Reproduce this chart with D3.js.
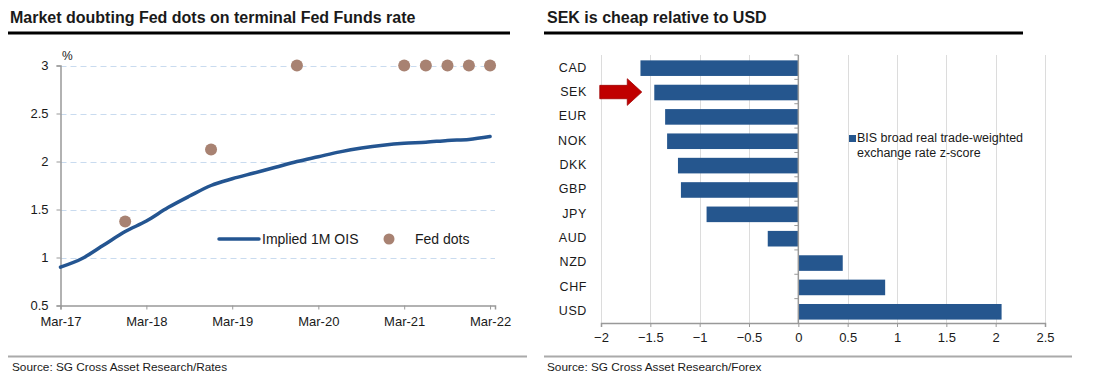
<!DOCTYPE html>
<html>
<head>
<meta charset="utf-8">
<script src="https://cdn.jsdelivr.net/npm/d3@7"></script>
<style>
  body { margin: 0; background: #fff; }
  text { font-family: "Liberation Sans", Arial, sans-serif; fill: #1a1a1a; }
</style>
</head>
<body>
<script>
// left chart: implied 1M OIS (quarterly) and Fed dots
var oisDates = ["2017-03", "2017-06", "2017-09", "2017-12", "2018-03", "2018-06", "2018-09", "2018-12",
  "2019-03", "2019-06", "2019-09", "2019-12", "2020-03", "2020-06", "2020-09", "2020-12",
  "2021-03", "2021-06", "2021-09", "2021-12", "2022-03"];
var oisValues = [0.90, 0.99, 1.13, 1.27, 1.38, 1.52, 1.64, 1.75,
  1.82, 1.88, 1.94, 2.00, 2.05, 2.10, 2.14, 2.17,
  2.19, 2.20, 2.22, 2.23, 2.26];
var dotDates = ["2017-12", "2018-12", "2019-12", "2021-03", "2021-06", "2021-09", "2021-12", "2022-03"];
var dotValues = [1.375, 2.125, 3.0, 3.0, 3.0, 3.0, 3.0, 3.0];
var leftTicksY = [0.5, 1, 1.5, 2, 2.5, 3];
var leftTicksX = ["2017-03", "2018-03", "2019-03", "2020-03", "2021-03", "2022-03"];

// right chart: BIS REER z-score
var currencies = ["CAD", "SEK", "EUR", "NOK", "DKK", "GBP", "JPY", "AUD", "NZD", "CHF", "USD"];
var zScores = [-1.60, -1.46, -1.35, -1.33, -1.22, -1.19, -0.93, -0.31, 0.45, 0.88, 2.06];
var rightTicksX = [-2, -1.5, -1, -0.5, 0, 0.5, 1, 1.5, 2, 2.5];

var parse = d3.timeParse("%Y-%m");
var grey = "#999";

var svg = d3.select("body").append("svg")
  .attr("width", 1115)
  .attr("height", 392);

/* ---------- left panel ---------- */
var left = svg.append("g");

left.append("text")
  .attr("x", 10).attr("y", 23)
  .style("font-size", "16px").style("font-weight", "bold")
  .text("Market doubting Fed dots on terminal Fed Funds rate");
left.append("line")
  .attr("x1", 8).attr("x2", 510).attr("y1", 33).attr("y2", 33)
  .attr("stroke", "#000").attr("stroke-width", 3);

var xL = d3.scaleTime()
  .domain([parse("2017-03"), new Date(2022, 2, 22)])
  .range([60.5, 495]);
var yL = d3.scaleLinear().domain([0.5, 3]).range([305.5, 65.5]);

// dashed grid
left.append("g").selectAll("line")
  .data(leftTicksY.filter(d => d > 0.5))
  .enter().append("line")
  .attr("x1", xL.range()[0]).attr("x2", xL.range()[1])
  .attr("y1", d => Math.round(yL(d)) + 0.5).attr("y2", d => Math.round(yL(d)) + 0.5)
  .attr("stroke", "#c9dbef").attr("stroke-width", 1.2)
  .attr("stroke-dasharray", "6,4");

// y axis
var yAxisL = left.append("g")
  .attr("transform", "translate(" + xL.range()[0] + ",0)")
  .call(d3.axisLeft(yL).tickValues(leftTicksY).tickSize(4).tickPadding(8).tickFormat(d3.format("")));
yAxisL.select(".domain").attr("stroke", grey).attr("stroke-width", 1.5);
yAxisL.selectAll(".tick line").attr("stroke", grey);
yAxisL.selectAll(".tick text").style("font-size", "13px").attr("fill", "#1a1a1a");

left.append("text")
  .attr("x", 62).attr("y", 60)
  .style("font-size", "12px")
  .text("%");

// x axis
var xAxisL = left.append("g")
  .attr("transform", "translate(0," + yL(0.5) + ")")
  .call(d3.axisBottom(xL).tickValues(leftTicksX.map(parse)).tickSize(4).tickPadding(7)
    .tickFormat(d3.timeFormat("%b-%y")));
xAxisL.select(".domain").attr("stroke", grey).attr("stroke-width", 1.5);
xAxisL.selectAll(".tick line").attr("stroke", grey);
xAxisL.selectAll(".tick text").style("font-size", "13px").attr("fill", "#1a1a1a");

// OIS line
var ois = oisDates.map((d, i) => ({ date: parse(d), value: oisValues[i] }));
left.append("path")
  .datum(ois)
  .attr("fill", "none")
  .attr("stroke", "#245591")
  .attr("stroke-width", 3.5)
  .attr("stroke-linecap", "round")
  .attr("d", d3.line().curve(d3.curveMonotoneX).x(d => xL(d.date)).y(d => yL(d.value)));

// Fed dots
var dots = dotDates.map((d, i) => ({ date: parse(d), value: dotValues[i] }));
left.append("g").selectAll("circle")
  .data(dots)
  .enter().append("circle")
  .attr("cx", d => xL(d.date))
  .attr("cy", d => yL(d.value))
  .attr("r", 6)
  .attr("fill", "#a88272");

// legend
var legL = left.append("g").attr("transform", "translate(0,239)");
legL.append("line")
  .attr("x1", 219).attr("x2", 259)
  .attr("stroke", "#245591").attr("stroke-width", 3.5).attr("stroke-linecap", "round");
legL.append("text").attr("x", 262).attr("y", 5).style("font-size", "14px").text("Implied 1M OIS");
legL.append("circle").attr("cx", 389).attr("cy", 0).attr("r", 5.5).attr("fill", "#a88272");
legL.append("text").attr("x", 415).attr("y", 5).style("font-size", "14px").text("Fed dots");

left.append("line")
  .attr("x1", 8).attr("x2", 527).attr("y1", 356.5).attr("y2", 356.5)
  .attr("stroke", "#aaa").attr("stroke-width", 2);
left.append("text")
  .attr("x", 12).attr("y", 371)
  .style("font-size", "11.8px")
  .text("Source: SG Cross Asset Research/Rates");

/* ---------- right panel ---------- */
var right = svg.append("g");

right.append("text")
  .attr("x", 547).attr("y", 23)
  .style("font-size", "16px").style("font-weight", "bold")
  .text("SEK is cheap relative to USD");
right.append("line")
  .attr("x1", 544).attr("x2", 1023).attr("y1", 33).attr("y2", 33)
  .attr("stroke", "#000").attr("stroke-width", 3);

var xR = d3.scaleLinear().domain([-2, 2.5]).range([601, 1045]);
var yR = d3.scaleBand().domain(currencies).range([55, 323]).padding(0);

// vertical grid
right.append("g").selectAll("line")
  .data(rightTicksX.filter(d => d !== 0))
  .enter().append("line")
  .attr("x1", d => Math.round(xR(d)) + 0.5).attr("x2", d => Math.round(xR(d)) + 0.5)
  .attr("y1", 55).attr("y2", 323)
  .attr("stroke", "#dcdcdc").attr("stroke-width", 1);

// bars
right.append("g").selectAll("rect")
  .data(currencies)
  .enter().append("rect")
  .attr("x", (d, i) => xR(Math.min(0, zScores[i])))
  .attr("width", (d, i) => Math.abs(xR(zScores[i]) - xR(0)))
  .attr("y", d => yR(d) + yR.bandwidth() * 0.22)
  .attr("height", yR.bandwidth() * 0.64)
  .attr("fill", "#25568e");

// x axis
var xAxisR = right.append("g")
  .attr("transform", "translate(0,323)")
  .call(d3.axisBottom(xR).tickValues(rightTicksX).tickSize(4).tickPadding(6).tickFormat(d3.format("")));
xAxisR.select(".domain").attr("stroke", grey).attr("stroke-width", 1.5);
xAxisR.selectAll(".tick line").attr("stroke", grey);
xAxisR.selectAll(".tick text").style("font-size", "13px").attr("fill", "#1a1a1a");

// y axis at zero with ticks at band edges
right.append("line")
  .attr("x1", xR(0)).attr("x2", xR(0)).attr("y1", 55).attr("y2", 323)
  .attr("stroke", grey).attr("stroke-width", 1.5);
right.append("g").selectAll("line")
  .data(currencies)
  .enter().append("line")
  .attr("x1", xR(0) - 4).attr("x2", xR(0))
  .attr("y1", d => yR(d)).attr("y2", d => yR(d))
  .attr("stroke", grey);

// category labels
right.append("g").selectAll("text")
  .data(currencies)
  .enter().append("text")
  .attr("x", 587)
  .attr("y", d => yR(d) + yR.bandwidth() / 2)
  .attr("dy", "0.35em")
  .attr("text-anchor", "end")
  .style("font-size", "12.5px")
  .style("letter-spacing", "0.6px")
  .text(d => d);

// red arrow pointing at SEK
var sekY = yR("SEK") + yR.bandwidth() / 2 + 0.5;
var tip = xR(zScores[currencies.indexOf("SEK")]) - 12.5;
right.append("path")
  .attr("d", "M" + (tip - 42) + "," + (sekY - 6.7) +
    " L" + (tip - 14.5) + "," + (sekY - 6.7) +
    " L" + (tip - 14.5) + "," + (sekY - 13.3) +
    " L" + tip + "," + sekY +
    " L" + (tip - 14.5) + "," + (sekY + 13.3) +
    " L" + (tip - 14.5) + "," + (sekY + 6.7) +
    " L" + (tip - 42) + "," + (sekY + 6.7) + " Z")
  .attr("fill", "#c00000")
  .attr("stroke", "#a00000")
  .attr("stroke-width", 0.8);

// legend
right.append("rect")
  .attr("x", 849).attr("y", 135).attr("width", 7).attr("height", 7)
  .attr("fill", "#25568e");
right.append("text")
  .attr("x", 857).attr("y", 142)
  .style("font-size", "12.5px")
  .text("BIS broad real trade-weighted");
right.append("text")
  .attr("x", 857).attr("y", 157)
  .style("font-size", "12.5px")
  .text("exchange rate z-score");

right.append("line")
  .attr("x1", 544).attr("x2", 1072).attr("y1", 356.5).attr("y2", 356.5)
  .attr("stroke", "#aaa").attr("stroke-width", 2);
right.append("text")
  .attr("x", 547).attr("y", 371)
  .style("font-size", "11.8px")
  .text("Source: SG Cross Asset Research/Forex");
</script>
</body>
</html>
